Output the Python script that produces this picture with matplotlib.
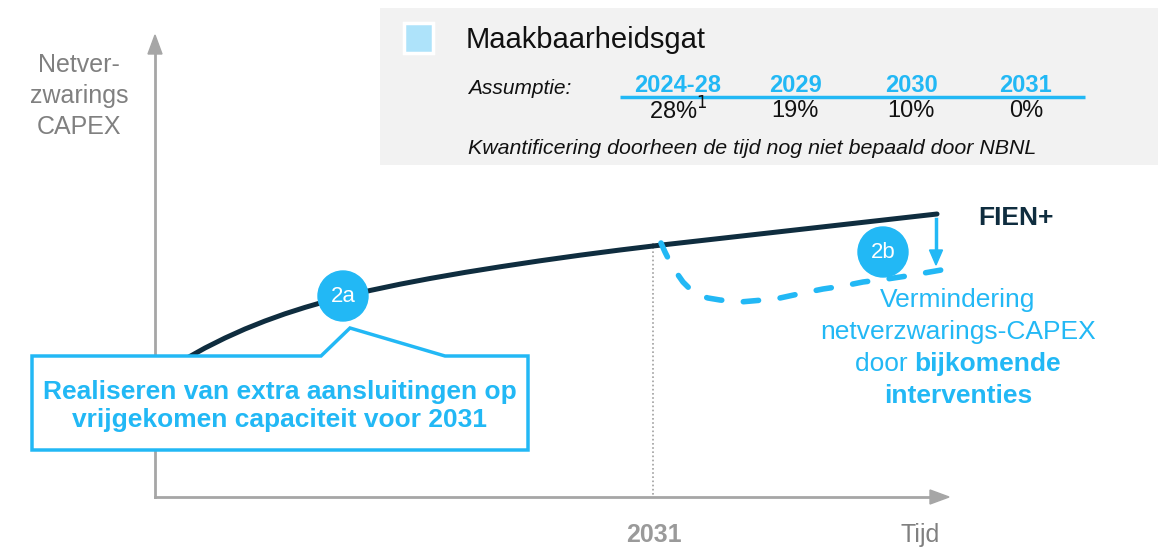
import matplotlib
matplotlib.use("Agg")
import matplotlib.pyplot as plt
from matplotlib.patches import Rectangle, Circle, Polygon

plt.rcParams['font.family'] = ['Liberation Sans', 'DejaVu Sans']

# ---- data (schematic canvas units: x to the right, y downward) ----
fien_x = [165, 185, 205, 225, 245, 265, 285, 305, 325, 345, 370, 400, 430, 465, 500, 540, 580, 620, 653, 937]
fien_y = [371.6, 359.2, 348.0, 338.0, 329.0, 321.0, 313.8, 307.4, 301.6, 296.4, 290.5, 284.2,
          278.5, 272.4, 266.8, 260.8, 255.2, 250.0, 246.0, 214.0]
interv_x = [661, 665, 670, 676, 683, 690, 698, 708, 720, 740, 763, 780, 803, 823, 843, 863, 887, 907, 947]
interv_y = [243, 252, 262, 272, 282, 289, 295, 298, 300, 302, 300, 298, 293, 289, 286, 282, 279, 276, 269]

years = ["2024-28", "2029", "2030", "2031"]
year_x = [678, 795, 911, 1026]
gap_values = ["28%$^1$", "19%", "10%", "0%"]

NAVY = '#0f2d3f'
BLUE = '#22b8f5'
GRAY_AX = '#a6a6a6'
GRAY_TXT = '#808080'

W, H = 1173, 549
fig = plt.figure(figsize=(W / 100, H / 100), dpi=100)
ax = fig.add_axes([0, 0, 1, 1])
ax.set_xlim(0, W)
ax.set_ylim(H, 0)
ax.axis('off')

# axes arrows
ax.plot([155, 155], [497, 52], color=GRAY_AX, lw=2, zorder=2)
ax.add_patch(Polygon([[148, 54], [162, 54], [155, 35]], closed=True, color=GRAY_AX, zorder=2))
ax.plot([155, 932], [497, 497], color=GRAY_AX, lw=2, zorder=2)
ax.add_patch(Polygon([[930, 490], [930, 504], [949, 497]], closed=True, color=GRAY_AX, zorder=2))

# dotted 2031 line
ax.plot([653, 653], [243, 497], color='#a0a0a0', lw=1.2, ls=(0, (1, 1.5)), zorder=1)

# axis labels
ax.text(79, 96, "Netver-\nzwarings\nCAPEX", ha='center', va='center', fontsize=18,
        color=GRAY_TXT, linespacing=1.36)
ax.text(654, 535, "2031", ha='center', va='center', fontsize=18, fontweight='bold', color='#9a9a9a')
ax.text(920, 535, "Tijd", ha='center', va='center', fontsize=18, color=GRAY_TXT)

# FIEN+ curve
ax.plot(fien_x, fien_y, color=NAVY, lw=3.6, solid_capstyle='round', solid_joinstyle='round', zorder=4)
ax.text(978, 218, "FIEN+", ha='left', va='center', fontsize=19, fontweight='bold', color=NAVY)

# interventions dashed
ax.plot(interv_x, interv_y, color=BLUE, lw=4.0, ls=(0, (2.75, 3.9)), dash_capstyle='round', zorder=4)

# down arrow
ax.plot([936, 936], [219, 252], color=BLUE, lw=2.5, zorder=5)
ax.add_patch(Polygon([[929.5, 250], [942.5, 250], [936, 265]], closed=True, color=BLUE, zorder=5))

# circles
for (cx, cy, lab) in [(343, 296, "2a"), (883, 252, "2b")]:
    ax.add_patch(Circle((cx, cy), 25, color=BLUE, zorder=6))
    ax.text(cx, cy + 1, lab, ha='center', va='center', fontsize=16, color='white', zorder=7)

# callout box
callout = [[32, 356], [321, 356], [350, 328], [445, 356], [528, 356], [528, 450], [32, 450]]
ax.add_patch(Polygon(callout, closed=True, facecolor='white', edgecolor=BLUE, lw=2.5, zorder=8))
ax.text(280, 406, "Realiseren van extra aansluitingen op\nvrijgekomen capaciteit voor 2031",
        ha='center', va='center', fontsize=19, fontweight='bold', color=BLUE, linespacing=1.2, zorder=9)

# 2b text
FS = 19
ax.text(958, 300, "Vermindering", ha='center', va='center', fontsize=FS, color=BLUE)
ax.text(958, 332, "netverzwarings-CAPEX", ha='center', va='center', fontsize=FS, color=BLUE)
fig.canvas.draw()
r = fig.canvas.get_renderer()
tmp1 = ax.text(0, 0, "door ", fontsize=FS)
tmp2 = ax.text(0, 0, "bijkomende", fontsize=FS, fontweight='bold')
w1 = tmp1.get_window_extent(r).width
w2 = tmp2.get_window_extent(r).width
tmp1.remove(); tmp2.remove()
x0 = 958 - (w1 + w2) / 2
ax.text(x0, 364, "door ", ha='left', va='center', fontsize=FS, color=BLUE)
ax.text(x0 + w1, 364, "bijkomende", ha='left', va='center', fontsize=FS, fontweight='bold', color=BLUE)
ax.text(958, 396, "interventies", ha='center', va='center', fontsize=FS, fontweight='bold', color=BLUE)

# top info box
ax.add_patch(Rectangle((380, 8), 778, 157, facecolor='#f2f2f2', edgecolor='none', zorder=0))
ax.add_patch(Rectangle((404, 23), 29, 30, facecolor='#aee3fa', edgecolor='white', lw=2.5, zorder=1))
ax.text(466, 40, "Maakbaarheidsgat", ha='left', va='center', fontsize=21, color='#111111')
ax.text(468, 88, "Assumptie:", ha='left', va='center', fontsize=15, style='italic', color='#111111')
for x, y_, v in zip(year_x, years, gap_values):
    ax.text(x, 85, y_, ha='center', va='center', fontsize=17, fontweight='bold', color=BLUE)
    ax.text(x, 111, v, ha='center', va='center', fontsize=17, color='#111111')
ax.plot([620, 1085], [96.5, 96.5], color=BLUE, lw=2.5, solid_capstyle='butt', zorder=2)
ax.text(468, 148, "Kwantificering doorheen de tijd nog niet bepaald door NBNL", ha='left', va='center',
        fontsize=15.4, style='italic', color='#111111')

fig.savefig("out.png", dpi=100)
